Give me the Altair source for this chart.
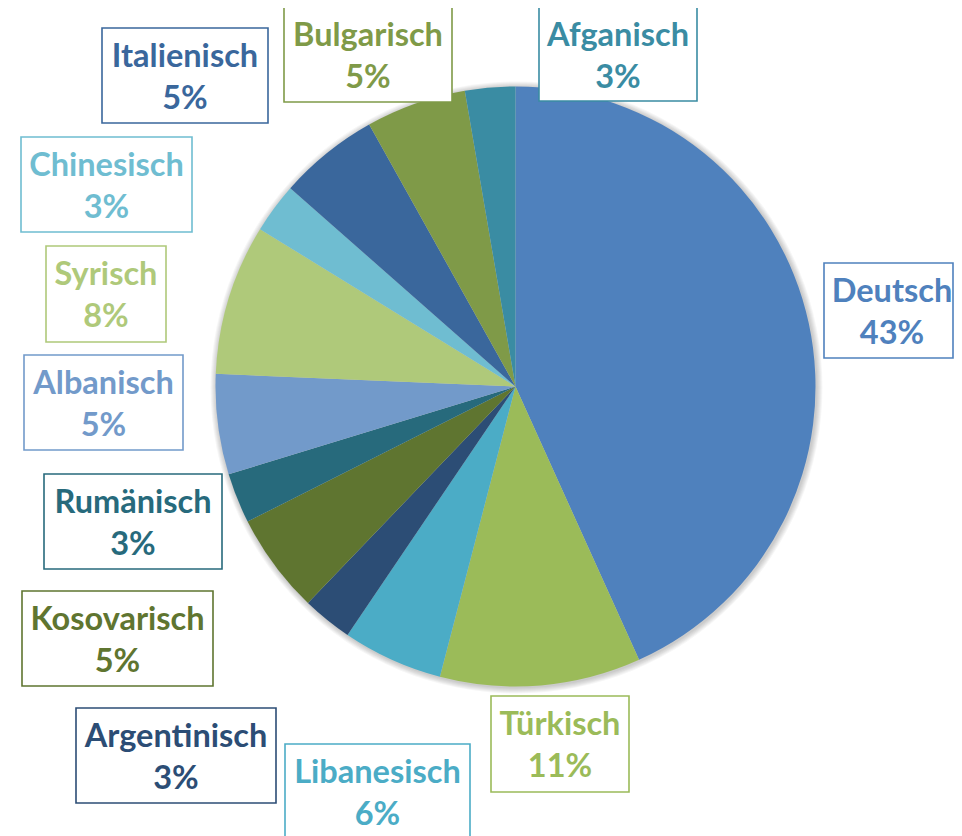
import altair as alt
import pandas as pd

# ---- data ----
languages = ["Deutsch", "Türkisch", "Libanesisch", "Argentinisch", "Kosovarisch",
             "Rumänisch", "Albanisch", "Syrisch", "Chinesisch", "Italienisch",
             "Bulgarisch", "Afganisch"]
counts = [16, 4, 2, 1, 2, 1, 2, 3, 1, 2, 2, 1]
percent_labels = ["43%", "11%", "6%", "3%", "5%", "3%", "5%", "8%", "3%", "5%", "5%", "3%"]

# ---- styles / layout ----
colors = ["#4F81BD", "#9BBB59", "#4BACC6", "#2C4D75", "#5F7530", "#276A7C",
          "#729ACA", "#AFC97A", "#6FBDD1", "#3A679C", "#7F9A48", "#3A8CA3"]
# label boxes (left, top, right, bottom) in page pixels
boxes = [(824, 263, 960, 358), (491, 696, 629, 792), (285, 744, 470, 839),
         (76, 708, 276, 803), (22, 591, 213, 686), (44, 474, 222, 569),
         (24, 355, 183, 450), (46, 246, 166, 342), (21, 137, 192, 232),
         (102, 28, 268, 123), (284, 7, 452, 102), (539, 7, 697, 101)]
M = 8  # page margin
W, H = 946, 828
CX, CY, R = 515.5 - M, 386.5 - M, 300
FONT = "Lato"

df = pd.DataFrame({"lang": languages, "count": counts, "pct": percent_labels,
                   "color": colors, "idx": list(range(len(languages)))})
df["x0"] = [b[0] - M for b in boxes]
df["y0"] = [b[1] - M for b in boxes]
df["x1"] = [b[2] - M for b in boxes]
df["y1"] = [b[3] - M for b in boxes]
df["xc"] = (df["x0"] + df["x1"]) / 2
# keep the box border visible inside the drawing area
df["x1"] = df["x1"].clip(upper=W - 1)
df["yl1"] = df["y0"] + 39
df["yl2"] = df["y0"] + 81

dummy = pd.DataFrame({"a": [0]})

shadows = [
    alt.Chart(dummy).mark_arc(radius=R + r, theta=0, theta2=6.2832,
                               color="#000000", opacity=0.035)
    .encode(x=alt.value(CX + 1), y=alt.value(CY + 1))
    for r in [1, 2, 3, 4, 5, 6]
]

pie = alt.Chart(df).mark_arc(radius=R, stroke=None).encode(
    theta=alt.Theta("count:Q", stack=True),
    order=alt.Order("idx:Q"),
    color=alt.Color("color:N", scale=None),
    x=alt.value(CX), y=alt.value(CY),
)

rects = alt.Chart(df).mark_rect(fill="white", strokeWidth=1.6).encode(
    x=alt.X("x0:Q", scale=None), x2="x1:Q",
    y=alt.Y("y0:Q", scale=None), y2="y1:Q",
    stroke=alt.Stroke("color:N", scale=None),
)

name_text = alt.Chart(df).mark_text(font=FONT, fontWeight="bold", fontSize=32.5,
                                    align="center", baseline="alphabetic").encode(
    x=alt.X("xc:Q", scale=None), y=alt.Y("yl1:Q", scale=None),
    text="lang:N", color=alt.Color("color:N", scale=None),
)
pct_text = alt.Chart(df).mark_text(font=FONT, fontWeight="bold", fontSize=32.5,
                                   align="center", baseline="alphabetic").encode(
    x=alt.X("xc:Q", scale=None), y=alt.Y("yl2:Q", scale=None),
    text="pct:N", color=alt.Color("color:N", scale=None),
)

chart = alt.layer(*shadows, pie, rects, name_text, pct_text).properties(
    width=W, height=H, autosize=alt.AutoSizeParams(type="none"), padding=0
).configure_view(stroke=None)

chart.save("out.html", embed_options={"renderer": "svg", "actions": False})
